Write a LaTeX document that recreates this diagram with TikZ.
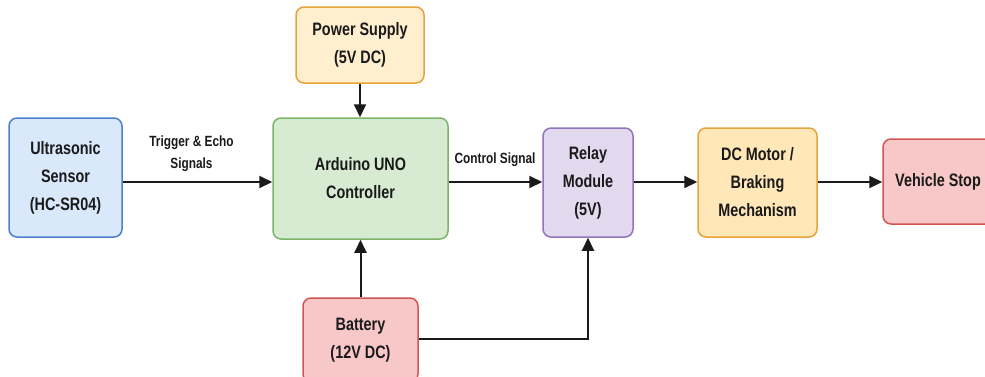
\documentclass[tikz,border=0pt]{standalone}
\usepackage{fontspec}
\setmainfont{Liberation Sans}[FakeStretch=0.8]
\usetikzlibrary{arrows.meta,calc}
\definecolor{txt}{HTML}{1A1A1A}
\definecolor{bluefill}{HTML}{DAE8FC}\definecolor{bluedraw}{HTML}{4F7FCB}
\definecolor{orfill}{HTML}{FFEFCF}\definecolor{ordraw}{HTML}{E6A43A}
\definecolor{or2fill}{HTML}{FFE7B8}
\definecolor{grfill}{HTML}{D7EBD3}\definecolor{grdraw}{HTML}{7DB46A}
\definecolor{pufill}{HTML}{E3D9EE}\definecolor{pudraw}{HTML}{9274BC}
\definecolor{refill}{HTML}{F8C8C8}\definecolor{redraw}{HTML}{D25555}
\tikzset{
  blockbox/.style={rounded corners=8pt, line width=1.5pt, align=center, text=txt,
    font=\fontsize{18}{28}\selectfont\bfseries, inner sep=0pt},
  lbl/.style={align=center, text=txt, font=\fontsize{14.8}{22}\selectfont\bfseries, inner sep=0pt},
  arr/.style={line width=2pt, draw=txt, -{Triangle[length=13pt,width=12pt]}},
}
\begin{document}
\begin{tikzpicture}[x=1pt,y=-1pt]
\useasboundingbox (0,0) rectangle (985,376);
\clip (0,0) rectangle (985,376);
\fill[white] (0,0) rectangle (985,376);
\node[blockbox, fill=bluefill, draw=bluedraw, minimum width=113pt, minimum height=119pt] (US) at (65.5,177.5) {Ultrasonic\\Sensor\\(HC-SR04)};
\node[blockbox, fill=orfill, draw=ordraw, minimum width=128pt, minimum height=76pt] (PS) at (360,45) {Power Supply\\(5V DC)};
\node[blockbox, fill=grfill, draw=grdraw, minimum width=175pt, minimum height=121pt] (AR) at (360.5,178.5) {Arduino UNO\\Controller};
\node[blockbox, fill=pufill, draw=pudraw, minimum width=90pt, minimum height=109pt] (REL) at (588,182.5) {Relay\\Module\\(5V)};
\node[blockbox, fill=or2fill, draw=ordraw, minimum width=119pt, minimum height=109pt] (DC) at (757.5,182.5) {DC Motor /\\Braking\\Mechanism};
\node[blockbox, fill=refill, draw=redraw, minimum width=110pt, minimum height=85pt] (VS) at (938,181.5) {Vehicle Stop};
\node[blockbox, fill=refill, draw=redraw, minimum width=115pt, minimum height=84pt] (BAT) at (360.5,340) {Battery\\(12V DC)};
\coordinate (main) at (0,182);
\coordinate (bl) at (0,339);
\draw[arr] (US.east |- main) -- (AR.west |- main);
\draw[arr] (AR.east |- main) -- (REL.west |- main);
\draw[arr] (REL.east |- main) -- (DC.west |- main);
\draw[arr] (DC.east |- main) -- (VS.west |- main);
\draw[arr] (PS.south) -- (PS.south |- AR.north);
\draw[arr] (BAT.north) -- (BAT.north |- AR.south);
\draw[arr] (BAT.east |- bl) -| (REL.south);
\node[lbl] (L1) at (191.5,154) {Trigger \& Echo\\Signals};
\node[lbl] (L2) at (495,160) {Control Signal};
\end{tikzpicture}
\end{document}
